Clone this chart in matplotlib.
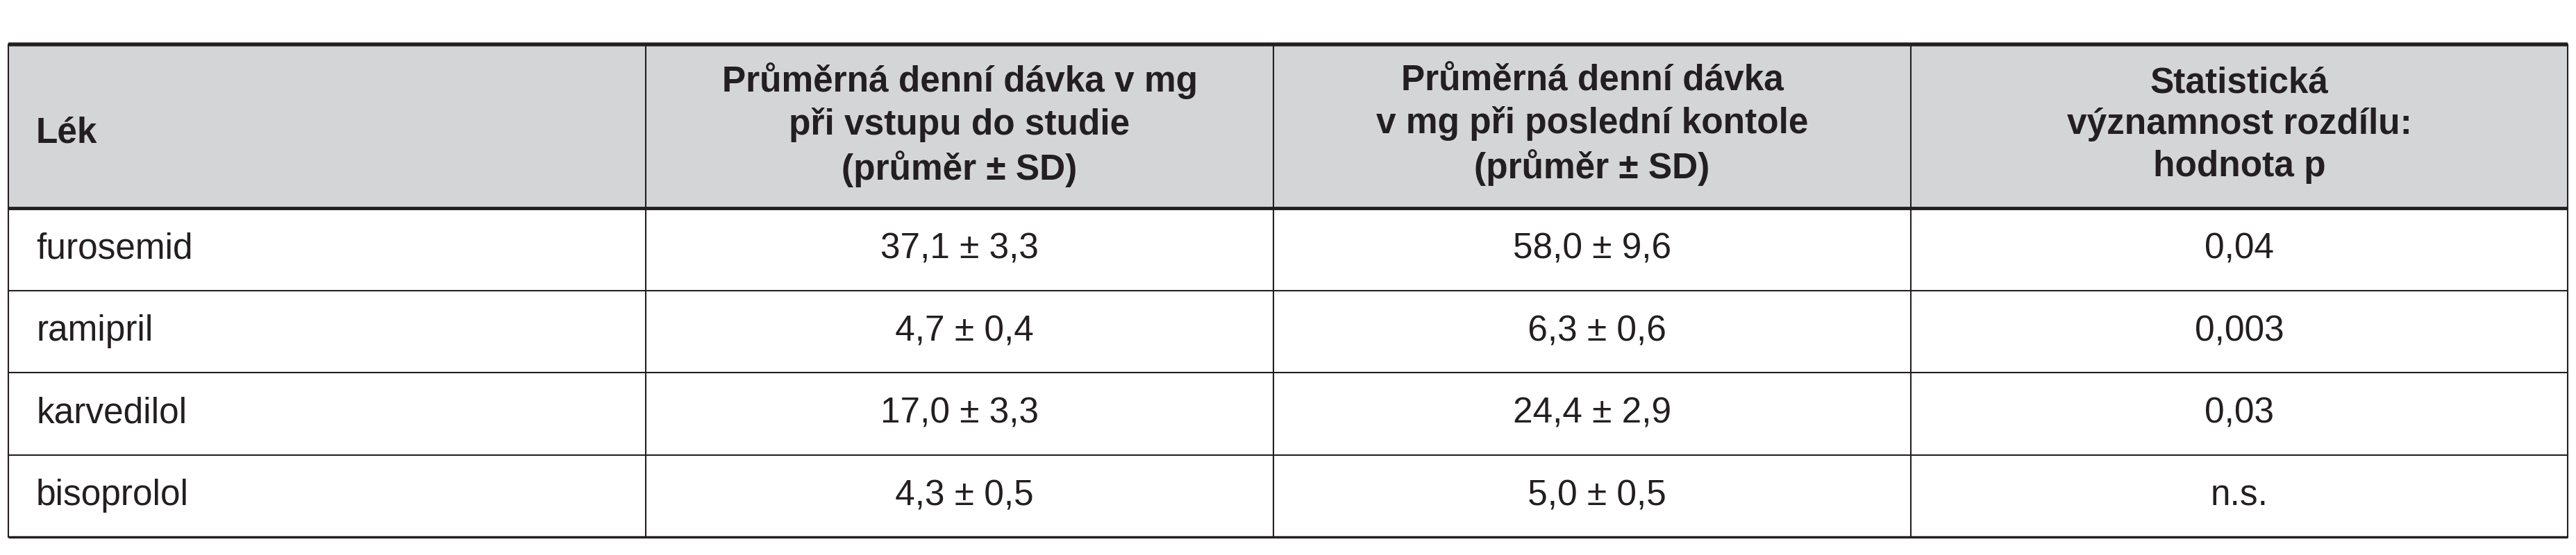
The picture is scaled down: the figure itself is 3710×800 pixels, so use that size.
import matplotlib
matplotlib.use("Agg")
import matplotlib.pyplot as plt
from matplotlib.patches import Rectangle

plt.rcParams['font.family'] = ['Liberation Sans', 'DejaVu Sans']

headers = ["Lék",
           "Průměrná denní dávka v mg\npři vstupu do studie\n(průměr ± SD)",
           "Průměrná denní dávka\nv mg při poslední kontole\n(průměr ± SD)",
           "Statistická\nvýznamnost rozdílu:\nhodnota p"]
drugs = ["furosemid", "ramipril", "karvedilol", "bisoprolol"]
entry_dose = ["37,1 ± 3,3", " 4,7 ± 0,4", "17,0 ± 3,3", " 4,3 ± 0,5"]
last_dose = ["58,0 ± 9,6", " 6,3 ± 0,6", "24,4 ± 2,9", " 5,0 ± 0,5"]
p_values = ["0,04", "0,003", "0,03", "n.s."]

W, H = 3710, 800
fig = plt.figure(figsize=(W/100, H/100), dpi=100)
ax = fig.add_axes([0, 0, 1, 1])
ax.set_xlim(0, W); ax.set_ylim(H, 0); ax.axis('off')

cols = [12, 930, 1834, 2752, 3698]
top, hbot = 64, 300
row_h = 118.5
nrows = len(drugs)
bottom = hbot + row_h * nrows

ax.add_patch(Rectangle((cols[0], top), cols[-1]-cols[0], hbot-top, facecolor='#d4d5d7', edgecolor='none'))
fs = 37
for j, h in enumerate(headers):
    if j == 0:
        ax.text(cols[0]+40, (top+hbot)/2+10, h, ha='left', va='center', fontsize=fs, fontweight='bold', color='#231f20')
    else:
        ax.text((cols[j]+cols[j+1])/2, (top+hbot)/2-2, h, ha='center', va='center', fontsize=fs,
                fontweight='bold', color='#231f20', linespacing=1.3)

for i in range(nrows):
    yc = hbot + row_h*(i+0.5)
    ax.text(cols[0]+40, yc, drugs[i], ha='left', va='center', fontsize=fs, color='#231f20')
    for j, v in enumerate([entry_dose[i], last_dose[i], p_values[i]], start=1):
        ax.text((cols[j]+cols[j+1])/2, yc, v, ha='center', va='center', fontsize=fs, color='#231f20')

lc = '#231f20'
ax.plot([cols[0], cols[-1]], [top, top], color=lc, lw=4, solid_capstyle='butt')
ax.plot([cols[0], cols[-1]], [hbot, hbot], color=lc, lw=3.5, solid_capstyle='butt')
for i in range(1, nrows):
    y = hbot + row_h*i
    ax.plot([cols[0], cols[-1]], [y, y], color=lc, lw=1.5)
ax.plot([cols[0], cols[-1]], [bottom, bottom], color=lc, lw=2.5, solid_capstyle='butt')
for x in cols:
    ax.plot([x, x], [top, bottom], color=lc, lw=1.5)

fig.savefig("out.png", dpi=100)
